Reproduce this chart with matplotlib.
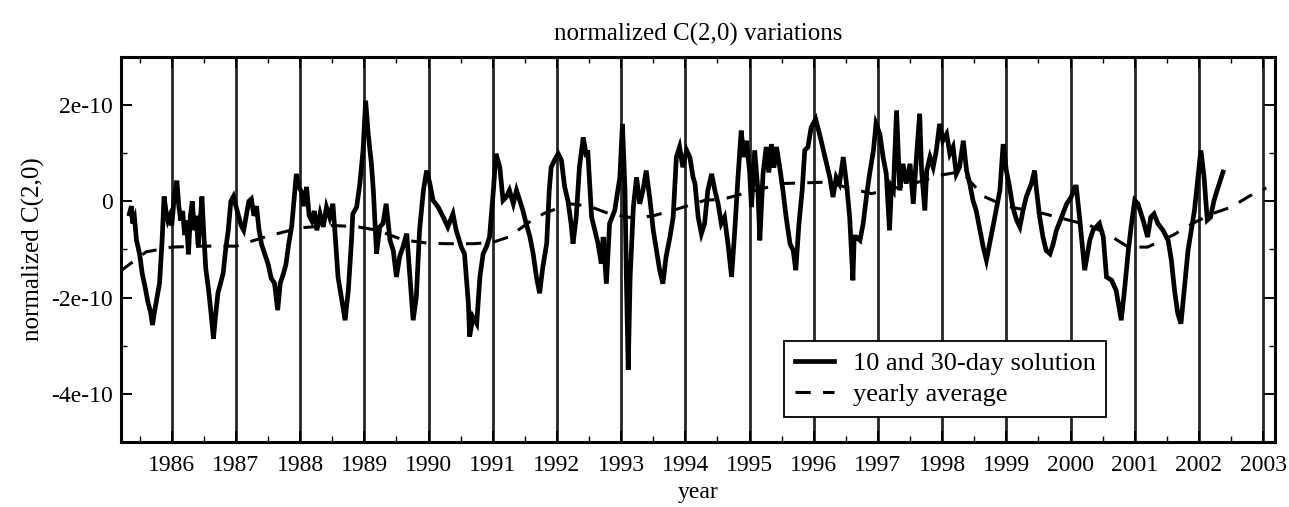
import numpy as np
import matplotlib
matplotlib.use("Agg")
import matplotlib.pyplot as plt
from matplotlib.ticker import FixedLocator, MultipleLocator

plt.rcParams['font.family'] = ['Liberation Serif', 'DejaVu Serif']

# 10 and 30-day solution (units of 1e-10)
sol_year = [
    1985.34, 1985.37, 1985.39, 1985.42, 1985.45, 1985.50, 1985.54, 1985.58, 1985.63, 1985.67,
    1985.70, 1985.73, 1985.77, 1985.81, 1985.85, 1985.88, 1985.91, 1985.94, 1985.97, 1986.00,
    1986.04, 1986.08, 1986.11, 1986.14, 1986.17, 1986.20, 1986.23, 1986.26, 1986.29, 1986.32,
    1986.35, 1986.38, 1986.41, 1986.44, 1986.47, 1986.50, 1986.53, 1986.57, 1986.61, 1986.65,
    1986.68, 1986.72, 1986.76, 1986.80, 1986.84, 1986.88, 1986.92, 1986.96, 1987.00, 1987.04,
    1987.08, 1987.12, 1987.16, 1987.20, 1987.24, 1987.28, 1987.32, 1987.36, 1987.40, 1987.45,
    1987.50, 1987.55, 1987.60, 1987.65, 1987.69, 1987.74, 1987.78, 1987.82, 1987.87, 1987.91,
    1987.94, 1987.98, 1988.02, 1988.06, 1988.10, 1988.14, 1988.18, 1988.22, 1988.26,
    1988.31, 1988.36, 1988.41, 1988.46, 1988.51, 1988.54, 1988.59, 1988.64, 1988.70, 1988.75,
    1988.80, 1988.82, 1988.88, 1988.93, 1988.98, 1989.02, 1989.06, 1989.11, 1989.14, 1989.19,
    1989.24, 1989.29, 1989.34, 1989.40, 1989.45, 1989.50, 1989.55, 1989.60, 1989.66, 1989.71,
    1989.76, 1989.81, 1989.86, 1989.92, 1989.97, 1990.02, 1990.07, 1990.15, 1990.23, 1990.30,
    1990.38, 1990.43, 1990.51, 1990.56, 1990.62, 1990.64, 1990.69, 1990.75, 1990.80, 1990.85,
    1990.90, 1990.95, 1991.01, 1991.05, 1991.11, 1991.16,
    1991.21, 1991.26, 1991.32, 1991.37, 1991.42, 1991.47, 1991.52, 1991.58, 1991.63, 1991.68,
    1991.73, 1991.78, 1991.84, 1991.88, 1991.91, 1991.96, 1992.02, 1992.07, 1992.12, 1992.17,
    1992.22, 1992.25, 1992.30, 1992.35, 1992.41, 1992.46, 1992.48, 1992.54, 1992.59, 1992.64,
    1992.69, 1992.72, 1992.77, 1992.82, 1992.90, 1992.98, 1993.02, 1993.06, 1993.08, 1993.11,
    1993.14, 1993.19, 1993.24, 1993.29, 1993.34, 1993.39, 1993.45, 1993.50, 1993.55, 1993.60,
    1993.65, 1993.70, 1993.76, 1993.81, 1993.86, 1993.91, 1993.96, 1994.02, 1994.07, 1994.12,
    1994.15,
    1994.20, 1994.25, 1994.30, 1994.35, 1994.41, 1994.46, 1994.51, 1994.56, 1994.61, 1994.67,
    1994.72, 1994.77, 1994.82, 1994.87, 1994.91, 1994.95, 1995.00, 1995.03, 1995.08, 1995.13,
    1995.16, 1995.21, 1995.26, 1995.30, 1995.34, 1995.38, 1995.42, 1995.47, 1995.52, 1995.57,
    1995.63, 1995.68, 1995.72, 1995.77, 1995.82, 1995.86, 1995.91, 1995.96, 1996.03, 1996.09,
    1996.15, 1996.20, 1996.25, 1996.30, 1996.35, 1996.40, 1996.46, 1996.51, 1996.56, 1996.61,
    1996.63, 1996.66, 1996.72, 1996.77, 1996.82, 1996.87, 1996.93, 1996.97, 1997.03, 1997.08,
    1997.13, 1997.18, 1997.21, 1997.24, 1997.29, 1997.34, 1997.39, 1997.44, 1997.50, 1997.55,
    1997.60, 1997.65, 1997.68, 1997.73, 1997.76, 1997.81, 1997.86, 1997.91, 1997.96, 1998.01,
    1998.07, 1998.12, 1998.17, 1998.22, 1998.27, 1998.33, 1998.38, 1998.43, 1998.48, 1998.53,
    1998.59, 1998.64, 1998.69, 1998.74, 1998.82, 1998.90, 1998.95, 1999.00, 1999.05, 1999.10,
    1999.16, 1999.21, 1999.26, 1999.31, 1999.39, 1999.44, 1999.47, 1999.52, 1999.57, 1999.62,
    1999.68, 1999.73, 1999.78, 1999.86, 1999.94, 2000.01, 2000.07,
    2000.09, 2000.14, 2000.19, 2000.22, 2000.30, 2000.35, 2000.40, 2000.45, 2000.51, 2000.56,
    2000.64, 2000.71, 2000.79, 2000.84, 2000.90, 2000.95, 2001.00, 2001.05, 2001.13, 2001.20,
    2001.25, 2001.30, 2001.36, 2001.44, 2001.52, 2001.57, 2001.62, 2001.67, 2001.72, 2001.78,
    2001.83, 2001.88, 2001.93, 2001.98, 2002.03, 2002.08, 2002.13, 2002.18, 2002.235, 2002.30,
    2002.375,
]
sol_val = [
    -0.26, -0.10, -0.46, -0.35, -0.80, -1.10, -1.50, -1.75, -2.10, -2.30,
    -2.57, -2.30, -2.00, -1.70, -0.80, 0.10, -0.20, -0.40, -0.30, -0.50,
    0.10, 0.43, -0.10, -0.40, -0.20, -0.70, -0.40, -1.10, -0.30, 0.00,
    -0.60, -0.30, -0.90, -0.50, 0.10, -0.70, -1.40, -1.80, -2.30, -2.85,
    -2.40, -1.90, -1.70, -1.50, -1.00, -0.60, 0.00, 0.10, -0.10, -0.30,
    -0.50, -0.60, -0.30, 0.00, 0.05, -0.30, -0.10, -0.60, -0.90, -1.10,
    -1.30, -1.60, -1.70, -2.26, -1.70, -1.50, -1.30, -0.90, -0.50, 0.10,
    0.57, 0.30, 0.20, -0.10, 0.30, -0.30, -0.40, -0.20, -0.60,
    -0.26, -0.53, -0.12, -0.33, -0.05, -0.60, -1.57, -1.98, -2.47, -1.85,
    -0.81, -0.26, -0.12, 0.37, 1.06, 2.09, 1.40, 0.78, 0.23, -1.09,
    -0.53, -0.46, -0.05, -0.81, -1.02, -1.57, -1.15, -0.95, -0.67, -1.57,
    -2.47, -1.98, -0.60, 0.23, 0.64, 0.37, 0.02, -0.12, -0.33, -0.53,
    -0.26, -0.60, -0.95, -1.09, -2.12, -2.81, -2.40, -2.54, -1.57, -1.09,
    -0.95, -0.74, 0.23, 0.99, 0.71, 0.02,
    0.09, 0.23, -0.05, 0.23, 0.02, -0.19, -0.46, -0.74, -1.09, -1.57,
    -1.91, -1.36, -0.88, 0.23, 0.71, 0.85, 0.99, 0.85, 0.30, 0.02,
    -0.46, -0.88, -0.33, 0.71, 1.33, 0.92, 1.06, -0.33, -0.60, -0.88,
    -1.29, -0.74, -1.71, -0.46, -0.19, 0.50, 1.61, 0.23, -1.50, -3.50,
    -1.57, -0.12, 0.50, -0.05, 0.23, 0.64, 0.02, -0.60, -1.02, -1.43,
    -1.71, -1.15, -0.74, -0.33, 0.92, 1.13, 0.71, 1.06, 0.92, 0.50,
    0.37,
    -0.33, -0.67, -0.46, 0.23, 0.57, 0.23, -0.05, -0.46, -0.33, -0.95,
    -1.57, -0.60, 0.50, 1.47, 0.92, 1.26, 0.64, -0.12, 1.06, 0.23,
    -0.81, 0.57, 1.13, 0.60, 1.19, 0.70, 1.13, 0.71, 0.23, -0.33,
    -0.88, -1.02, -1.43, -0.46, 0.23, 1.06, 1.13, 1.54, 1.71, 1.40,
    1.06, 0.78, 0.50, 0.09, 0.50, 0.37, 0.92, 0.37, -0.33, -1.64,
    -0.74, -0.74, -0.81, -0.46, 0.09, 0.57, 1.06, 1.61, 1.40, 0.92,
    0.57, -0.60, 0.30, 0.23, 1.89, 0.23, 0.78, 0.37, 0.78, -0.05,
    0.92, 1.82, 0.64, -0.19, 0.64, 0.92, 0.71, 1.06, 1.61, 1.26,
    1.40, 0.99, 1.13, 0.57, 0.71, 1.26, 0.64, 0.37, 0.02, -0.19,
    -0.60, -0.95, -1.22, -0.88, -0.33, 0.23, 1.19, 0.64, 0.30, -0.12,
    -0.39, -0.53, -0.19, 0.09, 0.37, 0.64, 0.23, -0.33, -0.74, -1.02,
    -1.09, -0.88, -0.60, -0.33, -0.05, 0.09, 0.30,
    0.30, -0.33, -1.02, -1.43, -0.81, -0.60, -0.53, -0.46, -0.74, -1.57,
    -1.64, -1.85, -2.47, -1.85, -1.02, -0.46, 0.02, -0.05, -0.39, -0.74,
    -0.33, -0.26, -0.46, -0.60, -0.81, -1.22, -1.85, -2.33, -2.54, -1.71,
    -1.02, -0.60, -0.19, 0.435, 1.06, 0.50, -0.39, -0.33, 0.02, 0.30,
    0.61,
]

# yearly average (units of 1e-10)
avg_year = [1985.2, 1985.6, 1986.0, 1986.5, 1987.0, 1987.5, 1988.0, 1988.5, 1988.9, 1989.2,
            1989.6, 1990.0, 1990.3, 1990.7, 1991.0, 1991.25, 1991.6, 1991.8, 1992.2, 1992.5,
            1992.8, 1993.2, 1993.5, 1993.8, 1994.3, 1994.6, 1994.9, 1995.5, 1996.2, 1996.6,
            1996.9, 1997.5, 1998.0, 1998.3, 1998.65, 1999.0, 1999.6, 2000.0, 2000.3, 2000.6,
            2000.9, 2001.2, 2001.6, 2001.9, 2002.2, 2002.5, 2002.8, 2003.05]
avg_val = [-1.45, -1.05, -0.95, -0.93, -0.93, -0.72, -0.55, -0.50, -0.53, -0.60,
           -0.80, -0.87, -0.88, -0.88, -0.85, -0.74, -0.40, -0.25, -0.05, -0.10,
           -0.25, -0.35, -0.30, -0.19, 0.02, 0.05, 0.16, 0.37, 0.40, 0.26,
           0.16, 0.35, 0.55, 0.62, 0.10, -0.10, -0.26, -0.40, -0.50, -0.70,
           -0.95, -0.95, -0.70, -0.46, -0.26, -0.12, 0.12, 0.28]

years = list(range(1986, 2004))
ytick_vals = [-4e-10, -2e-10, 0, 2e-10]
ytick_labels = ['-4e-10', '-2e-10', '0', '2e-10']

fig = plt.figure(figsize=(12.89, 5.07), dpi=100)
ax = fig.add_axes([0.0939, 0.1282, 0.8955, 0.7594])

for yr in years:
    ax.axvline(yr, color='0.15', lw=2.0, zorder=1)

ax.plot(sol_year, np.array(sol_val) * 1e-10, color='black', lw=3.4,
        solid_joinstyle='miter', label='10 and 30-day solution', zorder=3)
ax.plot(avg_year, np.array(avg_val) * 1e-10, color='black', lw=2.2,
        dashes=(5, 4), label='yearly average', zorder=3)

ax.set_xlim(1985.21, 2003.19)
ax.set_ylim(-5e-10, 3e-10)
ax.xaxis.set_major_locator(FixedLocator(years))
ax.xaxis.set_minor_locator(MultipleLocator(0.5))
ax.set_yticks(ytick_vals)
ax.set_yticklabels(ytick_labels)
ax.yaxis.set_minor_locator(MultipleLocator(1e-10))
ax.tick_params(which='both', direction='in', top=True, right=True, labelsize=17)
ax.tick_params(axis='x', which='major', pad=9)
ax.tick_params(axis='y', which='major', pad=6)
ax.tick_params(which='major', length=8, width=1.4)
ax.tick_params(which='minor', length=4, width=1.0)
for s in ax.spines.values():
    s.set_linewidth(2.2)

ax.set_title('normalized C(2,0) variations', fontsize=18, pad=12)
ax.set_xlabel('year', fontsize=17, labelpad=5)
ax.set_ylabel('normalized C(2,0)', fontsize=18, labelpad=4)

leg = ax.legend(loc='lower left', bbox_to_anchor=(0.5745, 0.065), borderaxespad=0,
                fontsize=19, fancybox=False, framealpha=1, edgecolor='black',
                handlelength=1.5, handletextpad=0.7, borderpad=0.4, labelspacing=0.3)
leg.get_frame().set_linewidth(1.3)
leg.set_zorder(5)

fig.savefig('out.png', dpi=100)
